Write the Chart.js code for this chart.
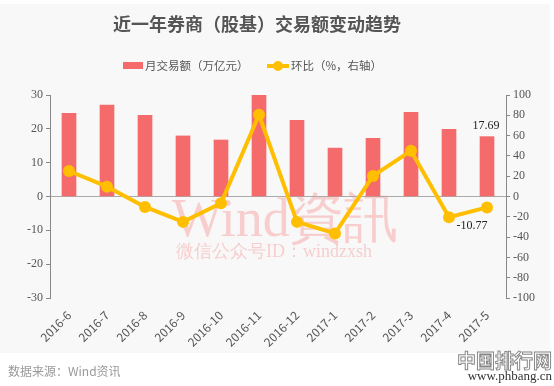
<!DOCTYPE html>
<html><head><meta charset="utf-8">
<script src="https://cdn.jsdelivr.net/npm/chart.js@4"></script>
<style>html,body{margin:0;padding:0;background:#fff;}#wrap{width:554px;height:386px;position:relative;}</style>
</head><body><div id="wrap"><canvas id="c" width="554" height="386"></canvas></div>
<script>
const titleText = '近一年券商（股基）交易额变动趋势';
const categories = ['2016-6','2016-7','2016-8','2016-9','2016-10','2016-11','2016-12','2017-1','2017-2','2017-3','2017-4','2017-5'];
const volumeLabel = '月交易额（万亿元）';
const volume = [24.6, 27.0, 24.0, 17.9, 16.7, 30.0, 22.5, 14.3, 17.2, 24.9, 19.82, 17.69];
const momLabel = '环比（%，右轴）';
const mom = [25.1, 9.7, -10.3, -25.0, -6.7, 80.5, -25.0, -36.4, 20.3, 45.0, -20.4, -10.77];
const leftTicks = [-30, -20, -10, 0, 10, 20, 30];
const rightTicks = [-100, -80, -60, -40, -20, 0, 20, 40, 60, 80, 100];
const sourceText = '数据来源：Wind资讯';

const BAR = '#F56B6B', LINE = '#FFBF00', TXT = '#555';
const CJK = "'Noto Sans CJK SC', 'Noto Sans', sans-serif";
const SERIF = "'Liberation Serif', 'DejaVu Serif', serif";

const decor = {
  id: 'decor',
  beforeDraw(chart) {
    const c = chart.ctx;
    c.save();
    c.fillStyle = '#fff'; c.fillRect(0, 0, 554, 386);
    c.fillStyle = '#F8F8F8'; c.fillRect(0, 4, 550, 349);
    // title
    c.fillStyle = TXT; c.font = "bold 18px " + CJK; c.textAlign = 'center'; c.textBaseline = 'middle';
    c.fillText(titleText, 257, 24);
    // legend
    c.font = "11.5px " + CJK; c.textAlign = 'left';
    c.fillStyle = BAR; c.fillRect(123, 62, 20, 7);
    c.fillStyle = TXT; c.fillText(volumeLabel, 145, 66);
    c.strokeStyle = LINE; c.lineWidth = 4; c.beginPath(); c.moveTo(267, 66); c.lineTo(289, 66); c.stroke();
    c.fillStyle = LINE; c.beginPath(); c.arc(278, 66, 5, 0, Math.PI * 2); c.fill();
    c.fillStyle = TXT; c.fillText(momLabel, 291, 66);
    // watermark
    c.fillStyle = 'rgba(245,107,107,0.30)';
    c.font = "54px " + SERIF; c.textAlign = 'left'; c.textBaseline = 'alphabetic';
    c.fillText('Wind資訊', 172, 236);
    c.font = "18px " + SERIF;
    c.fillText('微信公众号ID：windzxsh', 176, 257);
    // footer
    c.fillStyle = '#999'; c.font = "12px " + CJK; c.textBaseline = 'middle';
    c.fillText(sourceText, 8, 371);
    c.textAlign = 'right';
    c.font = "bold 19px " + CJK;
    c.fillStyle = '#fff'; c.fillText('中国排行网', 552, 361);
    c.strokeStyle = '#888'; c.lineWidth = 1; c.strokeText('中国排行网', 552, 361);
    c.fillStyle = '#333'; c.font = "13px " + SERIF;
    c.fillText('www.phbang.cn', 552, 377);
    c.restore();
  },
  afterDatasetsDraw(chart) {
    const c = chart.ctx;
    c.save();
    c.fillStyle = '#222'; c.font = "12px " + SERIF; c.textAlign = 'center';
    const n = categories.length - 1;
    const bm = chart.getDatasetMeta(0).data[n];
    c.textBaseline = 'bottom';
    c.fillText(volume[n].toFixed(2), bm.x - 1, bm.y - 5);
    const lm = chart.getDatasetMeta(1).data[n];
    c.textBaseline = 'top';
    c.fillText(mom[n].toFixed(2), lm.x - 15, lm.y + 12);
    c.restore();
  }
};

new Chart(document.getElementById('c'), {
  data: {
    labels: categories,
    datasets: [
      { type: 'bar', label: volumeLabel, data: volume, backgroundColor: BAR, barThickness: 14, yAxisID: 'y', order: 2 },
      { type: 'line', label: momLabel, data: mom, borderColor: LINE, backgroundColor: LINE, borderWidth: 4,
        pointRadius: 6, pointHoverRadius: 6, pointBackgroundColor: LINE, pointBorderWidth: 0, tension: 0, yAxisID: 'y1', order: 1 }
    ]
  },
  options: {
    responsive: false, animation: false,
    layout: { padding: { top: 95, bottom: 34, left: 0, right: 0 } },
    plugins: { legend: { display: false }, title: { display: false }, tooltip: { enabled: false } },
    scales: {
      x: {
        grid: { display: false }, border: { display: false },
        ticks: { minRotation: 45, maxRotation: 45, color: TXT, font: { family: CJK, size: 12 }, padding: 2, autoSkip: false },
        afterFit(s) { s.height = 54; }
      },
      y: {
        position: 'left', min: -30, max: 30,
        afterBuildTicks(s) { s.ticks = leftTicks.map(v => ({ value: v })); },
        grid: { color: ctx => (ctx.tick && ctx.tick.value === 0) ? '#AAAAAA' : 'rgba(0,0,0,0)', tickColor: '#888', tickLength: 4, lineWidth: 1 },
        border: { display: true, color: '#888', width: 1 },
        ticks: { color: TXT, font: { family: SERIF, size: 12 }, padding: 3 },
        afterFit(s) { s.width = 50; }
      },
      y1: {
        position: 'right', min: -100, max: 100,
        afterBuildTicks(s) { s.ticks = rightTicks.map(v => ({ value: v })); },
        grid: { drawOnChartArea: false, color: '#888', tickLength: 4 },
        border: { display: true, color: '#888', width: 1 },
        ticks: { color: TXT, font: { family: SERIF, size: 12 }, padding: 3 },
        afterFit(s) { s.width = 48; }
      }
    }
  },
  plugins: [decor]
});
</script></body></html>
